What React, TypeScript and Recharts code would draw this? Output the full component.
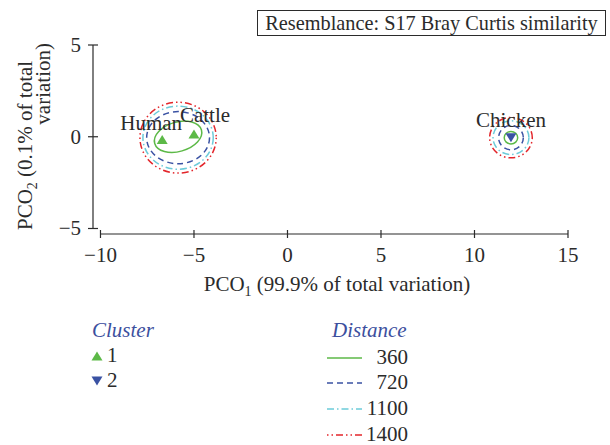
import React from 'react';
import {
  ScatterChart,
  Scatter,
  XAxis,
  YAxis,
  ReferenceArea,
  ReferenceLine,
} from 'recharts';

const FONT = '"Liberation Serif", "Times New Roman", serif';
const FS = 21;
const INK = '#2b2b2b';
const LEGEND_BLUE = '#3c4f9e';

const xTicks = [-10, -5, 0, 5, 10, 15];
const yTicks = [-5, 0, 5];
const X_DOMAIN = [-10.4, 15];
const Y_DOMAIN = [-5.3, 5];

const clusterNames = ['1', '2'];

const cluster1Points = [
  { name: 'Human', x: -6.7, y: -0.15 },
  { name: 'Cattle', x: -5.0, y: 0.15 },
];
const cluster2Points = [{ name: 'Chicken', x: 11.95, y: -0.05 }];

const distanceLevels = [360, 720, 1100, 1400];

// contour extents in data units (centre + half axes)
const mammalContours = [
  { level: 360, cx: -5.85, cy: 0.0, rx: 1.3, ry: 0.8, tilt: -16 },
  { level: 720, cx: -5.85, cy: -0.05, rx: 1.68, ry: 1.42, tilt: 0 },
  { level: 1100, cx: -5.85, cy: -0.05, rx: 1.88, ry: 1.72, tilt: 0 },
  { level: 1400, cx: -5.85, cy: -0.05, rx: 2.04, ry: 1.93, tilt: 0 },
];
const chickenContours = [
  { level: 360, cx: 11.95, cy: -0.05, rx: 0.36, ry: 0.34, tilt: 0 },
  { level: 720, cx: 11.95, cy: -0.05, rx: 0.66, ry: 0.66, tilt: 0 },
  { level: 1100, cx: 11.95, cy: -0.05, rx: 0.96, ry: 0.92, tilt: 0 },
  { level: 1400, cx: 11.95, cy: -0.05, rx: 1.14, ry: 1.1, tilt: 0 },
];

const LEVEL_STYLE: Record<number, { stroke: string; dash?: string }> = {
  360: { stroke: '#5cb947' },
  720: { stroke: '#3a52a3', dash: '6 4' },
  1100: { stroke: '#6ccbd9', dash: '7 3 1.5 3' },
  1400: { stroke: '#e3262b', dash: '1.5 3 1.5 3 7 3' },
};

const CLUSTER_COLOR = ['#5cb947', '#3a52a3'];

const LABEL_OFFSET: Record<string, [number, number]> = {
  Human: [-11, -10],
  Cattle: [11, -12],
  Chicken: [0, -11],
};

const fmt = (v: number) => (v < 0 ? `\u2212${Math.abs(v)}` : `${v}`);

const ellipseShape = (level: number, tilt: number) => (props: any) => {
  const { x, y, width, height } = props;
  const cx = x + width / 2;
  const cy = y + height / 2;
  const st = LEVEL_STYLE[level];
  return (
    <ellipse
      cx={cx}
      cy={cy}
      rx={Math.abs(width) / 2}
      ry={Math.abs(height) / 2}
      transform={tilt ? `rotate(${tilt} ${cx} ${cy})` : undefined}
      fill="none"
      stroke={st.stroke}
      strokeWidth={1.5}
      strokeDasharray={st.dash}
    />
  );
};

const triangle = (cx: number, cy: number, up: boolean) => {
  const w = 5.5;
  const h = 4.5;
  return up
    ? `${cx},${cy - h} ${cx - w},${cy + h} ${cx + w},${cy + h}`
    : `${cx},${cy + h} ${cx - w},${cy - h} ${cx + w},${cy - h}`;
};

const pointShape = (clusterIdx: number) => (props: any) => {
  const { cx, cy, payload } = props;
  const [dx, dy] = LABEL_OFFSET[payload.name] || [0, -10];
  return (
    <g>
      <polygon points={triangle(cx, cy, clusterIdx === 0)} fill={CLUSTER_COLOR[clusterIdx]} />
      <text
        x={cx + dx}
        y={cy + dy}
        textAnchor="middle"
        fontFamily={FONT}
        fontSize={FS}
        fill={INK}
      >
        {payload.name}
      </text>
    </g>
  );
};

const XTick = (props: any) => {
  const { x, y, payload } = props;
  return (
    <g>
      <line x1={x} x2={x} y1={y - 4} y2={y + 4} stroke={INK} strokeWidth={1.2} />
      <text x={x} y={y + 28} textAnchor="middle" fontFamily={FONT} fontSize={FS} fill={INK}>
        {fmt(payload.value)}
      </text>
    </g>
  );
};

const YTick = (props: any) => {
  const { x, y, payload } = props;
  return (
    <g>
      <line x1={x - 5} x2={x + 5} y1={y} y2={y} stroke={INK} strokeWidth={1.2} />
      <text x={x - 12} y={y + 7} textAnchor="end" fontFamily={FONT} fontSize={FS} fill={INK}>
        {fmt(payload.value)}
      </text>
    </g>
  );
};

const legendLineY = [358, 383, 409, 435];

export default function App() {
  return (
    <div style={{ position: 'absolute', left: 0, top: 0, width: 610, height: 445, background: '#fff' }}>
      <ScatterChart
        width={610}
        height={445}
        margin={{ top: 45, right: 42, bottom: 181, left: 0 }}
      >
        <XAxis
          type="number"
          dataKey="x"
          domain={X_DOMAIN}
          ticks={xTicks}
          allowDataOverflow
          axisLine={false}
          tickLine={false}
          tickSize={0}
          tickMargin={0}
          height={30}
          tick={<XTick />}
        />
        <YAxis
          type="number"
          dataKey="y"
          domain={Y_DOMAIN}
          ticks={yTicks}
          allowDataOverflow
          axisLine={false}
          tickLine={false}
          tickSize={0}
          tickMargin={0}
          width={93}
          tick={<YTick />}
        />
        <ReferenceLine
          segment={[{ x: xTicks[0], y: Y_DOMAIN[0] }, { x: xTicks[xTicks.length - 1], y: Y_DOMAIN[0] }]}
          stroke={INK}
          strokeWidth={1.2}
          ifOverflow="visible"
        />
        <ReferenceLine
          segment={[{ x: X_DOMAIN[0], y: yTicks[0] }, { x: X_DOMAIN[0], y: yTicks[yTicks.length - 1] }]}
          stroke={INK}
          strokeWidth={1.2}
          ifOverflow="visible"
        />
        {[...mammalContours, ...chickenContours].map((c, i) => (
          <ReferenceArea
            key={i}
            x1={c.cx - c.rx}
            x2={c.cx + c.rx}
            y1={c.cy - c.ry}
            y2={c.cy + c.ry}
            ifOverflow="visible"
            shape={ellipseShape(c.level, c.tilt)}
          />
        ))}
        <Scatter data={cluster1Points} isAnimationActive={false} shape={pointShape(0)} />
        <Scatter data={cluster2Points} isAnimationActive={false} shape={pointShape(1)} />
      </ScatterChart>

      <div
        style={{
          position: 'absolute',
          left: 257,
          top: 10,
          width: 347,
          height: 24,
          border: `1px solid ${INK}`,
          fontFamily: FONT,
          fontSize: 20.3,
          lineHeight: '24px',
          textAlign: 'center',
          color: INK,
          whiteSpace: 'nowrap',
        }}
      >
        Resemblance: S17 Bray Curtis similarity
      </div>

      <svg
        width={610}
        height={445}
        style={{ position: 'absolute', left: 0, top: 0, pointerEvents: 'none' }}
        fontFamily={FONT}
        fontSize={FS}
        fill={INK}
      >
        {/* axis titles */}
        <text x={337} y={291} textAnchor="middle">
          PCO<tspan fontSize={14} dy={5}>1</tspan>
          <tspan dy={-5}> (99.9% of total variation)</tspan>
        </text>
        <g transform="translate(32,230) rotate(-90)">
          <text x={0} y={0} textAnchor="start">
            PCO<tspan fontSize={14} dy={5}>2</tspan>
            <tspan dy={-5}> (0.1% of total</tspan>
          </text>
          <text x={187} y={18} textAnchor="end">
            variation)
          </text>
        </g>

        {/* legend: cluster */}
        <text x={92} y={337} fontStyle="italic" fill={LEGEND_BLUE}>
          Cluster
        </text>
        {clusterNames.map((c, i) => {
          const cy = 356 + i * 25;
          return (
            <g key={c}>
              <polygon points={triangle(97, cy, i === 0)} fill={CLUSTER_COLOR[i]} />
              <text x={107} y={cy + 6}>
                {c}
              </text>
            </g>
          );
        })}

        {/* legend: distance */}
        <text x={332} y={337} fontStyle="italic" fill={LEGEND_BLUE}>
          Distance
        </text>
        {distanceLevels.map((d, i) => {
          const st = LEVEL_STYLE[d];
          const y = legendLineY[i];
          return (
            <g key={d}>
              <line
                x1={327}
                x2={362}
                y1={y}
                y2={y}
                stroke={st.stroke}
                strokeWidth={1.5}
                strokeDasharray={st.dash}
              />
              <text x={408} y={y + 6} textAnchor="end">
                {d}
              </text>
            </g>
          );
        })}
      </svg>
    </div>
  );
}
